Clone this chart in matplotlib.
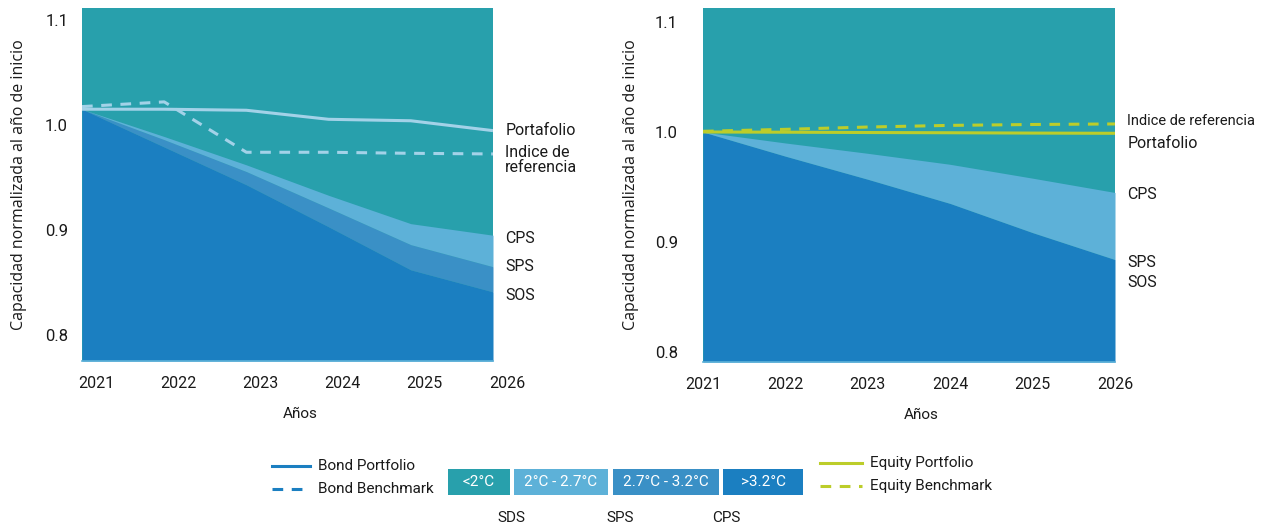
import matplotlib
matplotlib.use("Agg")
import matplotlib.pyplot as plt
import matplotlib.transforms as mtransforms
from matplotlib.patches import Rectangle

plt.rcParams["font.family"] = ["Roboto", "DejaVu Sans"]

# ---- data -------------------------------------------------------------
years = [2021, 2022, 2023, 2024, 2025, 2026]

bond_portfolio = [1.015, 1.015, 1.014, 1.0054, 1.004, 0.9946]
bond_benchmark = [1.0175, 1.022, 0.974, 0.974, 0.973, 0.9724]
bond_cps = [1.015, 0.989, 0.962, 0.933, 0.906, 0.895]
bond_sps = [1.015, 0.986, 0.9556, 0.921, 0.886, 0.865]
bond_sos = [1.015, 0.979, 0.943, 0.903, 0.862, 0.841]

equity_portfolio = [1.0, 0.9998, 0.9995, 0.9993, 0.999, 0.9988]
equity_benchmark = [1.0006, 1.0024, 1.0045, 1.006, 1.0068, 1.0073]
equity_cps = [1.0, 0.990, 0.9806, 0.9706, 0.958, 0.945]
equity_sps = [1.0, 0.978, 0.957, 0.935, 0.9085, 0.884]
equity_sos = [1.0, 0.978, 0.957, 0.935, 0.9085, 0.884]

yticks = [0.8, 0.9, 1.0, 1.1]
band_labels = ["<2°C", "2°C - 2.7°C", "2.7°C - 3.2°C", ">3.2°C"]
scen_labels = ["SDS", "SPS", "CPS"]

# ---- style ------------------------------------------------------------
TEAL = "#28a0ac"
LIGHT = "#5db1d8"
MID = "#3a90c6"
DARK = "#1b7fc1"
BOND_LINE = "#a3d2e8"
BOND_LEG = "#1b7fc1"
EQ_LINE = "#bccd2a"
TXT = "#1a1a1a"

W, H = 1263, 530
fig = plt.figure(figsize=(W / 100, H / 100), dpi=100)


def px_axes(x0, y0, x1, y1):
    return fig.add_axes([x0 / W, 1 - y1 / H, (x1 - x0) / W, (y1 - y0) / H])


def draw_panel(ax, ylim, cps, sps, sos, port, bench, line_col, tick_pad,
               xoff, ylab_x):
    lo, hi = ylim
    ax.set_facecolor(TEAL)
    ax.fill_between(years, lo, sos, color=DARK, lw=0)
    ax.fill_between(years, sos, sps, color=MID, lw=0)
    ax.fill_between(years, sps, cps, color=LIGHT, lw=0)
    ax.plot(years, port, color=line_col, lw=2.2, solid_capstyle="butt")
    ax.plot(years, bench, color=line_col, lw=2.2, ls=(0, (3.5, 2.8)))
    ax.set_xlim(years[0], years[-1])
    ax.set_ylim(lo, hi)
    ax.set_yticks(yticks)
    ax.set_yticklabels([f"{v:.1f}" for v in yticks], fontsize=12, color=TXT)
    ax.set_xticks(years)
    ax.set_xticklabels([str(y) for y in years], fontsize=11.5, color=TXT)
    ax.tick_params(axis="y", length=0, pad=tick_pad)
    ax.tick_params(axis="x", length=0, pad=11)
    off = mtransforms.ScaledTranslation(xoff / 100, 0, fig.dpi_scale_trans)
    for lab in ax.get_xticklabels():
        lab.set_transform(lab.get_transform() + off)
    for s in ["top", "left", "right"]:
        ax.spines[s].set_visible(False)
    ax.spines["bottom"].set_color(LIGHT)
    ax.spines["bottom"].set_linewidth(1.2)
    ax.set_xlabel("Años", fontsize=11, color=TXT, labelpad=9)
    ax.xaxis.set_label_coords(0.53, -0.13)
    ax.set_ylabel("Capacidad normalizada al año de inicio", fontsize=11.5,
                  color=TXT, family=["Open Sans", "DejaVu Sans"])
    ax.yaxis.set_label_coords(ylab_x, 0.5)


ax1 = px_axes(82, 8, 493, 361)
draw_panel(ax1, (0.7752, 1.1114), bond_cps, bond_sps, bond_sos,
           bond_portfolio, bond_benchmark, BOND_LINE, 10, 14, -0.135)

ax2 = px_axes(703, 8, 1115, 362)
draw_panel(ax2, (0.7909, 1.1127), equity_cps, equity_sps, equity_sos,
           equity_portfolio, equity_benchmark, EQ_LINE, 18, 0, -0.155)


# end-of-line labels
def end_label(ax, y, text, dy=0, size=11.5):
    tr = mtransforms.blended_transform_factory(ax.transAxes, ax.transData)
    ax.text(1.03, y + dy, text, transform=tr, fontsize=size, color=TXT,
            va="center", ha="left", linespacing=1.0)


end_label(ax1, bond_portfolio[-1], "Portafolio")
end_label(ax1, bond_benchmark[-1], "Indice de\nreferencia", dy=-0.006)
end_label(ax1, bond_cps[-1], "CPS", dy=-0.003)
end_label(ax1, bond_sps[-1], "SPS")
end_label(ax1, bond_sos[-1], "SOS", dy=-0.003)

end_label(ax2, equity_benchmark[-1], "Indice de referencia", dy=0.003,
          size=10.5)
end_label(ax2, equity_portfolio[-1], "Portafolio", dy=-0.009)
end_label(ax2, equity_cps[-1], "CPS", dy=-0.002)
end_label(ax2, equity_sps[-1], "SPS", dy=-0.003)
end_label(ax2, equity_sos[-1], "SOS", dy=-0.021)

# ---- legend (pixel overlay) ------------------------------------------
lg = fig.add_axes([0, 0, 1, 1], zorder=-1)
lg.set_xlim(0, W)
lg.set_ylim(H, 0)
lg.axis("off")

lg.plot([272, 310], [466, 466], color=BOND_LEG, lw=2.2)
lg.plot([272, 310], [489, 489], color=BOND_LEG, lw=2.2, ls=(0, (3.5, 2.8)))
lg.text(318, 466, "Bond Portfolio", va="center", fontsize=11, color=TXT)
lg.text(318, 489, "Bond Benchmark", va="center", fontsize=11, color=TXT)

boxes = [(448, 510), (514, 608), (613, 719), (723, 803)]
for (x0, x1), lab, col in zip(boxes, band_labels, [TEAL, LIGHT, MID, DARK]):
    lg.add_patch(Rectangle((x0, 469), x1 - x0, 26, color=col, lw=0))
    lg.text((x0 + x1) / 2, 482, lab, ha="center", va="center", fontsize=11,
            color="white")

lg.plot([820, 862], [463, 463], color=EQ_LINE, lw=2.2)
lg.plot([820, 862], [486, 486], color=EQ_LINE, lw=2.2, ls=(0, (3.5, 2.8)))
lg.text(870, 463, "Equity Portfolio", va="center", fontsize=11, color=TXT)
lg.text(870, 486, "Equity Benchmark", va="center", fontsize=11, color=TXT)

for xc, lab in zip([511, 620, 726], scen_labels):
    lg.text(xc, 518, lab, ha="center", va="center", fontsize=11, color=TXT)

fig.savefig("out.png", dpi=100)
